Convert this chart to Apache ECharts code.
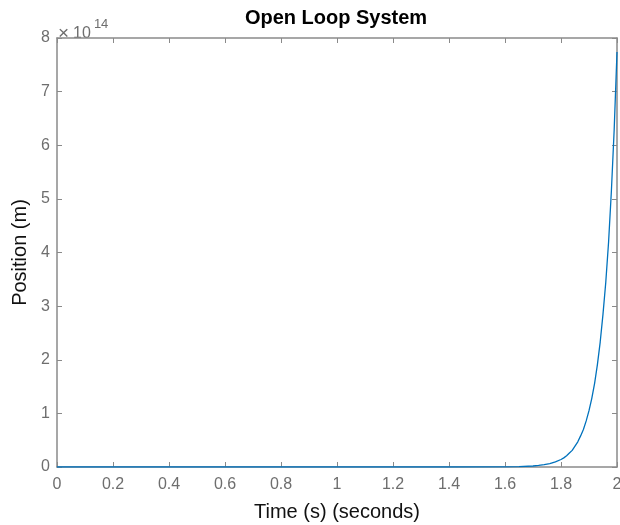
<!DOCTYPE html>
<html>
<head>
<meta charset="utf-8">
<script src="https://cdn.jsdelivr.net/npm/echarts@6/dist/echarts.min.js"></script>
<style>html,body{margin:0;padding:0;background:#fff}#c{width:620px;height:525px}</style>
</head>
<body>
<div id="c"></div>
<script>
// Time (s)
const timeS = [0, 0.2, 0.4, 0.6, 0.8, 1.0, 1.2, 1.4, 1.6, 1.65, 1.7, 1.72, 1.74, 1.76, 1.78, 1.8, 1.81, 1.82, 1.83, 1.84, 1.85, 1.86, 1.87, 1.88, 1.89, 1.9, 1.91, 1.92, 1.93, 1.94, 1.95, 1.96, 1.97, 1.98, 1.99, 2.0];
// Position in units of 1e14 m
const positionE14 = [0, 0, 0, 0, 0, 0, 0, 0, 0.003, 0.007, 0.019, 0.029, 0.043, 0.064, 0.095, 0.14, 0.17, 0.21, 0.26, 0.31, 0.39, 0.47, 0.58, 0.7, 0.86, 1.05, 1.28, 1.56, 1.91, 2.33, 2.85, 3.45, 4.2, 5.15, 6.3, 7.74];
const xTicks = ['0','0.2','0.4','0.6','0.8','1','1.2','1.4','1.6','1.8','2'];
const yTicks = ['0','1','2','3','4','5','6','7','8'];
const exponentLabel = '14';

const FONT = '"Liberation Sans", Arial, Helvetica, sans-serif';
const AX = '#8a8a8a';
const LBL = '#6e6e6e';

const chart = echarts.init(document.getElementById('c'), null, {renderer: 'canvas'});
const data = timeS.map((t, i) => [t, positionE14[i]]);

const line = {show: true, onZero: false, lineStyle: {color: AX, width: 1.5}};
const tick = {show: true, inside: true, length: 5, lineStyle: {color: AX, width: 1}};
chart.setOption({
  animation: false,
  backgroundColor: '#fff',
  title: {
    text: 'Open Loop System', left: 331, top: 3, textAlign: 'center',
    textStyle: {fontFamily: FONT, fontWeight: 'bold', fontSize: 20, color: '#000'}
  },
  grid: {left: 57, right: 3, top: 38, bottom: 58, outerBoundsMode: 'none'},
  xAxis: [{
    type: 'value', min: 0, max: 2, interval: 0.2,
    name: 'Time (s) (seconds)', nameLocation: 'middle', nameGap: 35,
    nameTextStyle: {fontFamily: FONT, fontSize: 20, color: '#111'},
    axisLine: line, axisTick: tick,
    axisLabel: {fontFamily: FONT, fontSize: 16, color: LBL, margin: 10,
      formatter: v => xTicks[Math.round(v / 0.2)]},
    splitLine: {show: false}
  }, {
    type: 'value', position: 'top', min: 0, max: 2, interval: 0.2,
    axisLine: line, axisTick: tick,
    axisLabel: {show: false}, splitLine: {show: false}
  }],
  yAxis: [{
    type: 'value', min: 0, max: 8, interval: 1,
    name: 'Position (m)', nameLocation: 'middle', nameGap: 24,
    nameTextStyle: {fontFamily: FONT, fontSize: 20, color: '#111'},
    axisLine: line, axisTick: tick,
    axisLabel: {fontFamily: FONT, fontSize: 16, color: LBL, margin: 7,
      formatter: v => yTicks[Math.round(v)]},
    splitLine: {show: false}
  }, {
    type: 'value', position: 'right', min: 0, max: 8, interval: 1,
    axisLine: line, axisTick: tick,
    axisLabel: {show: false}, splitLine: {show: false}
  }],
  graphic: [{
    type: 'text', left: 58, top: 18,
    style: {
      text: '{x|×}{a|10}{b|' + exponentLabel + '}',
      rich: {
        x: {fontFamily: FONT, fontSize: 19, fill: LBL, padding: [6, 4, 0, 0]},
        a: {fontFamily: FONT, fontSize: 16, fill: LBL, padding: [6, 0, 0, 0]},
        b: {fontFamily: FONT, fontSize: 13, fill: LBL, verticalAlign: 'top', padding: [0, 0, 6, 3]}
      }
    }
  }],
  series: [{
    type: 'line', data: data, xAxisIndex: 0, yAxisIndex: 0,
    showSymbol: false, smooth: false,
    lineStyle: {color: '#0072BD', width: 1.3},
    clip: true
  }, {
    type: 'line', data: [[0, 0]], xAxisIndex: 1, yAxisIndex: 1,
    showSymbol: false, lineStyle: {opacity: 0}, silent: true
  }]
});
</script>
</body>
</html>
